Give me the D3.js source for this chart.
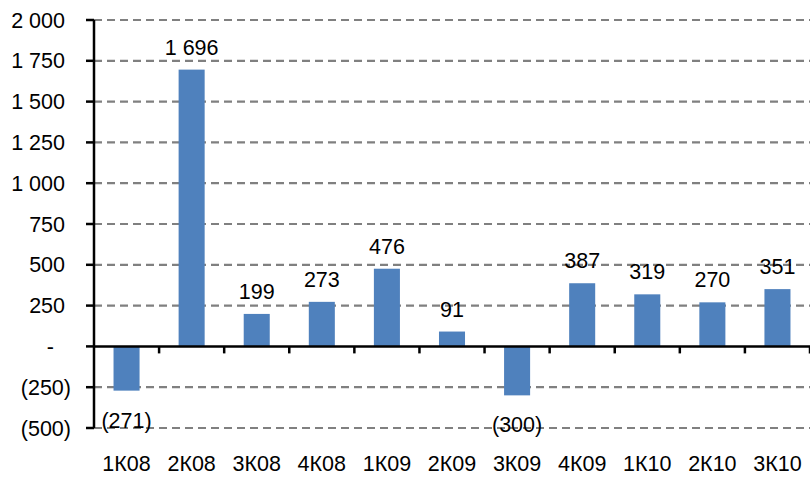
<!DOCTYPE html>
<html lang="ru">
<head>
<meta charset="UTF-8" />
<title>Quarterly chart</title>
<style>
  body { margin: 0; background: #fff; }
  svg { display: block; font-family: "Liberation Sans", Arial, sans-serif; }
</style>
</head>
<body>
<svg></svg>
<script src="https://d3js.org/d3.v7.min.js"></script>
<script>
const quarters = ["1К08", "2К08", "3К08", "4К08", "1К09", "2К09", "3К09", "4К09", "1К10", "2К10", "3К10"];
const values = [-271, 1696, 199, 273, 476, 91, -300, 387, 319, 270, 351];
const yTicks = [-500, -250, 0, 250, 500, 750, 1000, 1250, 1500, 1750, 2000];

const width = 810, height = 477;
const margin = { top: 20, right: 0, bottom: 49, left: 94 };
const fontSize = 21.5;

const svg = d3.select("svg").attr("width", width).attr("height", height);

const x = d3.scaleBand()
    .domain(quarters)
    .range([margin.left, width - margin.right])
    .paddingInner(0.6)
    .paddingOuter(0.3);

const y = d3.scaleLinear()
    .domain([-500, 2000])
    .range([height - margin.bottom, margin.top]);

// number format: "1 696", "(271)", "-"
const fmt = v => {
    if (v === 0) return "-";
    const s = d3.format(",")(Math.abs(v)).replace(/,/g, "\u00a0");
    return v < 0 ? "(" + s + ")" : s;
};

// gridlines
svg.append("g")
    .selectAll("line")
    .data(yTicks.filter(t => t !== 0))
    .join("line")
    .attr("x1", margin.left)
    .attr("x2", width)
    .attr("y1", d => y(d))
    .attr("y2", d => y(d))
    .attr("stroke", "#808080")
    .attr("stroke-width", 2.2)
    .attr("stroke-dasharray", "8 5");

// bars
svg.append("g")
    .selectAll("rect")
    .data(values)
    .join("rect")
    .attr("x", (d, i) => x(quarters[i]))
    .attr("width", x.bandwidth())
    .attr("y", d => y(Math.max(0, d)))
    .attr("height", d => Math.abs(y(d) - y(0)))
    .attr("fill", "#4f81bd");

// value labels
svg.append("g")
    .selectAll("text")
    .data(values)
    .join("text")
    .attr("x", (d, i) => x(quarters[i]) + x.bandwidth() / 2)
    .attr("y", d => d < 0 ? y(d) + 37 : y(d) - 15)
    .attr("text-anchor", "middle")
    .attr("font-size", fontSize)
    .attr("fill", "#000")
    .text(fmt);

// y axis
const yAxis = svg.append("g");
yAxis.append("line")
    .attr("x1", margin.left).attr("x2", margin.left)
    .attr("y1", y(2000)).attr("y2", y(-500))
    .attr("stroke", "#000").attr("stroke-width", 2.5);
yAxis.selectAll("line.tick")
    .data(yTicks)
    .join("line")
    .attr("class", "tick")
    .attr("x1", margin.left - 8).attr("x2", margin.left)
    .attr("y1", d => y(d)).attr("y2", d => y(d))
    .attr("stroke", "#000").attr("stroke-width", 2.5);
yAxis.selectAll("text")
    .data(yTicks)
    .join("text")
    .attr("x", d => d < 0 ? 71 : d === 0 ? 54 : 65)
    .attr("y", d => y(d))
    .attr("dy", "0.35em")
    .attr("text-anchor", "end")
    .attr("font-size", fontSize)
    .attr("fill", "#000")
    .text(fmt);

// x axis at zero
const xAxis = svg.append("g");
xAxis.append("line")
    .attr("x1", margin.left).attr("x2", width)
    .attr("y1", y(0)).attr("y2", y(0))
    .attr("stroke", "#000").attr("stroke-width", 2.5);
const step = x.step();
xAxis.selectAll("line.tick")
    .data(quarters)
    .join("line")
    .attr("class", "tick")
    .attr("x1", d => x(d) + x.bandwidth() / 2 + step / 2)
    .attr("x2", d => x(d) + x.bandwidth() / 2 + step / 2)
    .attr("y1", y(0)).attr("y2", y(0) + 7)
    .attr("stroke", "#000").attr("stroke-width", 2.5);
xAxis.selectAll("text")
    .data(quarters)
    .join("text")
    .attr("x", d => x(d) + x.bandwidth() / 2)
    .attr("y", 471)
    .attr("text-anchor", "middle")
    .attr("font-size", fontSize)
    .attr("fill", "#000")
    .text(d => d);
</script>
</body>
</html>
